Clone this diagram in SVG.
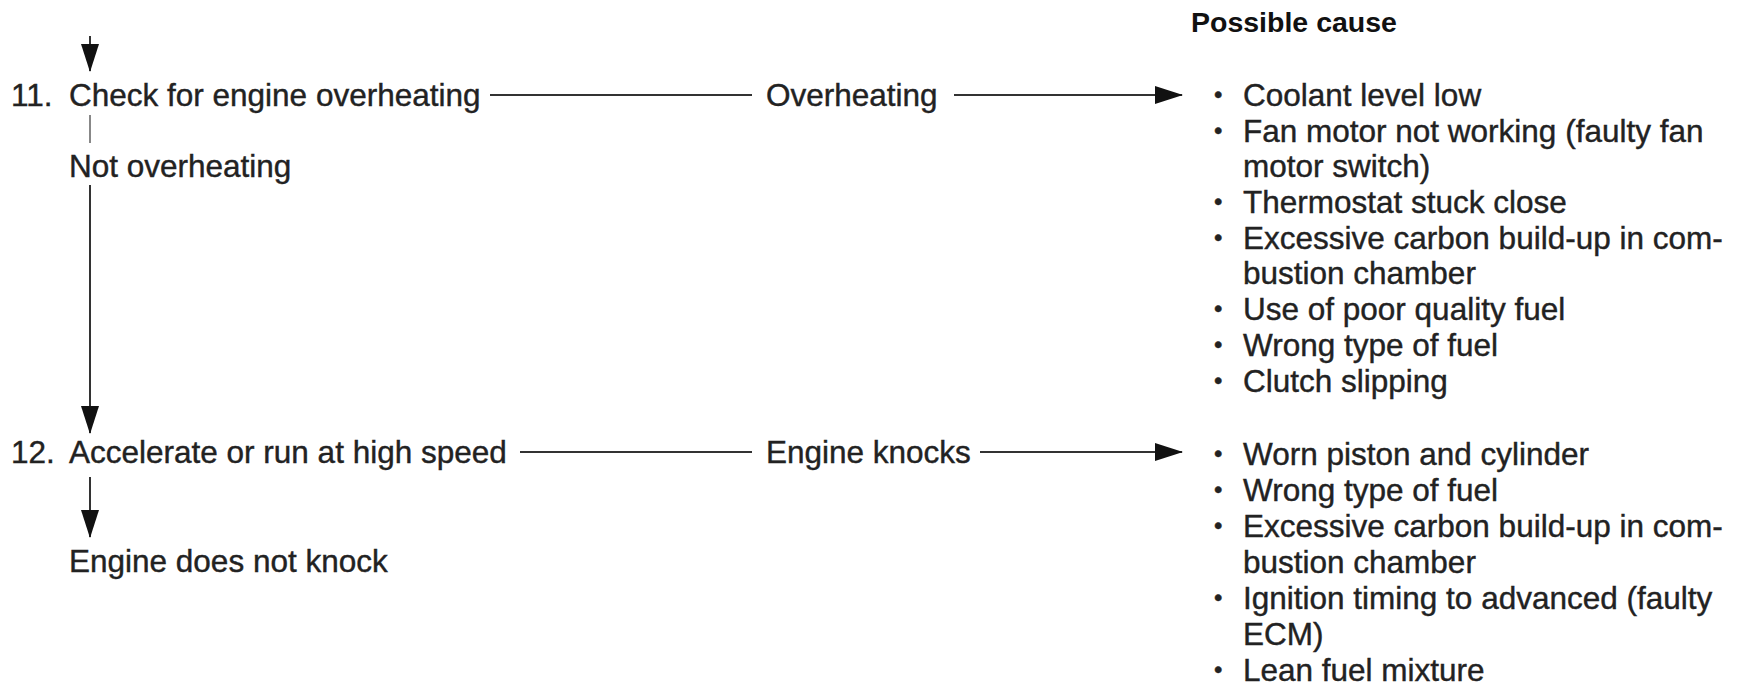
<svg xmlns="http://www.w3.org/2000/svg" width="1746" height="688" viewBox="0 0 1746 688">
<style>
.t{font-family:"Liberation Sans",Arial,Helvetica,sans-serif;font-size:31.5px;fill:#222;stroke:#222;stroke-width:0.4}
.h{font-weight:bold;font-size:28.5px;fill:#111;stroke:none}
.b{font-size:24px}
.c{stroke:#333;stroke-width:2;fill:none}
.g{stroke:#888;stroke-width:2;fill:none}
</style>
<defs>
<marker id="ah" viewBox="0 0 28 18" refX="27" refY="9" markerWidth="28" markerHeight="18" markerUnits="userSpaceOnUse" orient="auto">
<path d="M0,0 L28,9 L0,18 Z" fill="#111"/>
</marker>
</defs>
<rect width="1746" height="688" fill="#fff"/>
<g id="connectors">
<path class="c" d="M90,36 V71" marker-end="url(#ah)"/>
<path class="c" d="M490,95 H752"/>
<path class="c" d="M954,95 H1182" marker-end="url(#ah)"/>
<path class="g" d="M90,115 V143"/>
<path class="c" d="M90,185 V433" marker-end="url(#ah)"/>
<path class="c" d="M520,452 H752"/>
<path class="c" d="M980,452 H1182" marker-end="url(#ah)"/>
<path class="c" d="M90,477 V537" marker-end="url(#ah)"/>
</g>
<g id="step11">
<text class="t" x="11" y="106">11.</text>
<text class="t" x="69" y="106">Check for engine overheating</text>
</g>
<g id="not-overheating">
<text class="t" x="69" y="177">Not overheating</text>
</g>
<g id="overheating">
<text class="t" x="766" y="106">Overheating</text>
</g>
<g id="header">
<text class="t h" x="1191" y="32">Possible cause</text>
</g>
<g id="causes11">
<text class="t b" x="1214" y="103">•</text><text class="t" x="1243" y="106">Coolant level low</text>
<text class="t b" x="1214" y="139">•</text><text class="t" x="1243" y="142">Fan motor not working (faulty fan</text>
<text class="t" x="1243" y="177">motor switch)</text>
<text class="t b" x="1214" y="210">•</text><text class="t" x="1243" y="213">Thermostat stuck close</text>
<text class="t b" x="1214" y="246">•</text><text class="t" x="1243" y="249">Excessive carbon build-up in com-</text>
<text class="t" x="1243" y="284">bustion chamber</text>
<text class="t b" x="1214" y="317">•</text><text class="t" x="1243" y="320">Use of poor quality fuel</text>
<text class="t b" x="1214" y="353">•</text><text class="t" x="1243" y="356">Wrong type of fuel</text>
<text class="t b" x="1214" y="389">•</text><text class="t" x="1243" y="392">Clutch slipping</text>
</g>
<g id="step12">
<text class="t" x="11" y="463">12.</text>
<text class="t" x="69" y="463">Accelerate or run at high speed</text>
</g>
<g id="engine-knocks">
<text class="t" x="766" y="463">Engine knocks</text>
</g>
<g id="no-knock">
<text class="t" x="69" y="572">Engine does not knock</text>
</g>
<g id="causes12">
<text class="t b" x="1214" y="462">•</text><text class="t" x="1243" y="465">Worn piston and cylinder</text>
<text class="t b" x="1214" y="498">•</text><text class="t" x="1243" y="501">Wrong type of fuel</text>
<text class="t b" x="1214" y="534">•</text><text class="t" x="1243" y="537">Excessive carbon build-up in com-</text>
<text class="t" x="1243" y="573">bustion chamber</text>
<text class="t b" x="1214" y="606">•</text><text class="t" x="1243" y="609">Ignition timing to advanced (faulty</text>
<text class="t" x="1243" y="645">ECM)</text>
<text class="t b" x="1214" y="678">•</text><text class="t" x="1243" y="681">Lean fuel mixture</text>
</g>
</svg>
